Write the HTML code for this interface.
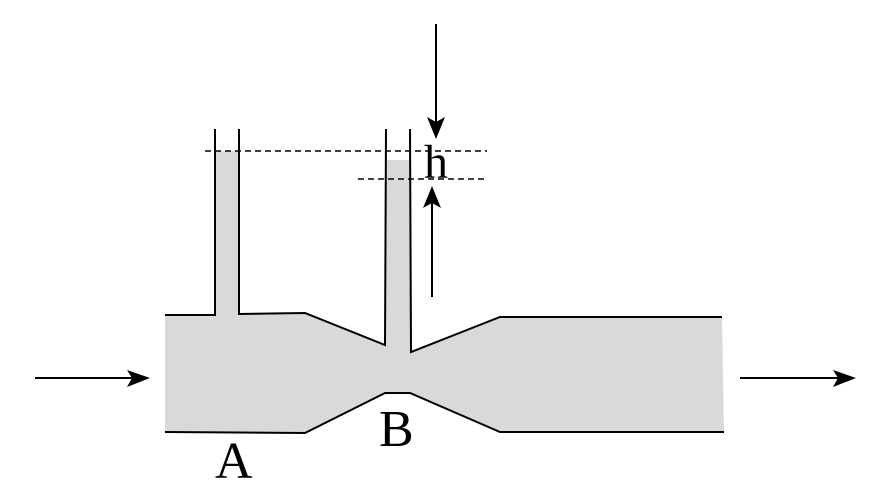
<!DOCTYPE html>
<html><head><meta charset="utf-8"><style>html,body{margin:0;padding:0;background:#fff}svg{display:block}</style></head>
<body>
<svg width="881" height="486" viewBox="0 0 881 486" xmlns="http://www.w3.org/2000/svg">
<path d="M165,315 L215,315 L215,151 L239,151 L239,314 L305,314 L385,345 L385,160 L410,160 L410,352 L500,317 L722,317 L724,432 L500,432 L410,393 L385,393 L305,433 L165,432 Z" fill="#d9d9d9"/>
<g stroke="#000" stroke-width="2" fill="none">
<path d="M165,315 L215,315 L215,129"/>
<path d="M239,129 L239,314 L305,313 L385,345 L386,129"/>
<path d="M410,129 L411,352 L500,317 L722,317"/>
<path d="M165,432 L305,433 L385,393 L410,393 L500,432 L724,432"/>
</g>
<g stroke="#000" stroke-width="1.5" stroke-dasharray="6,4">
<line x1="205" y1="151" x2="487" y2="151"/>
<line x1="358" y1="179" x2="487" y2="179"/>
</g>
<g stroke="#000" stroke-width="2">
<line x1="35" y1="378" x2="135" y2="378"/>
<line x1="740" y1="378" x2="840" y2="378"/>
<line x1="436" y1="24" x2="436" y2="125"/>
<line x1="432" y1="297" x2="432" y2="200"/>
</g>
<g fill="#000">
<polygon points="150,378 127,370 132,378 127,387"/>
<polygon points="856,378 833,370 838,378 833,387"/>
<polygon points="436,139 427,117 436,122 445,117"/>
<polygon points="432,186 423,208 432,203 441,208"/>
</g>
<g font-family="Liberation Serif, serif" fill="#000">
<text x="424" y="178" font-size="48">h</text>
<text x="215" y="478" font-size="52">A</text>
<text x="379" y="446" font-size="52">B</text>
</g>
</svg>
</body></html>
